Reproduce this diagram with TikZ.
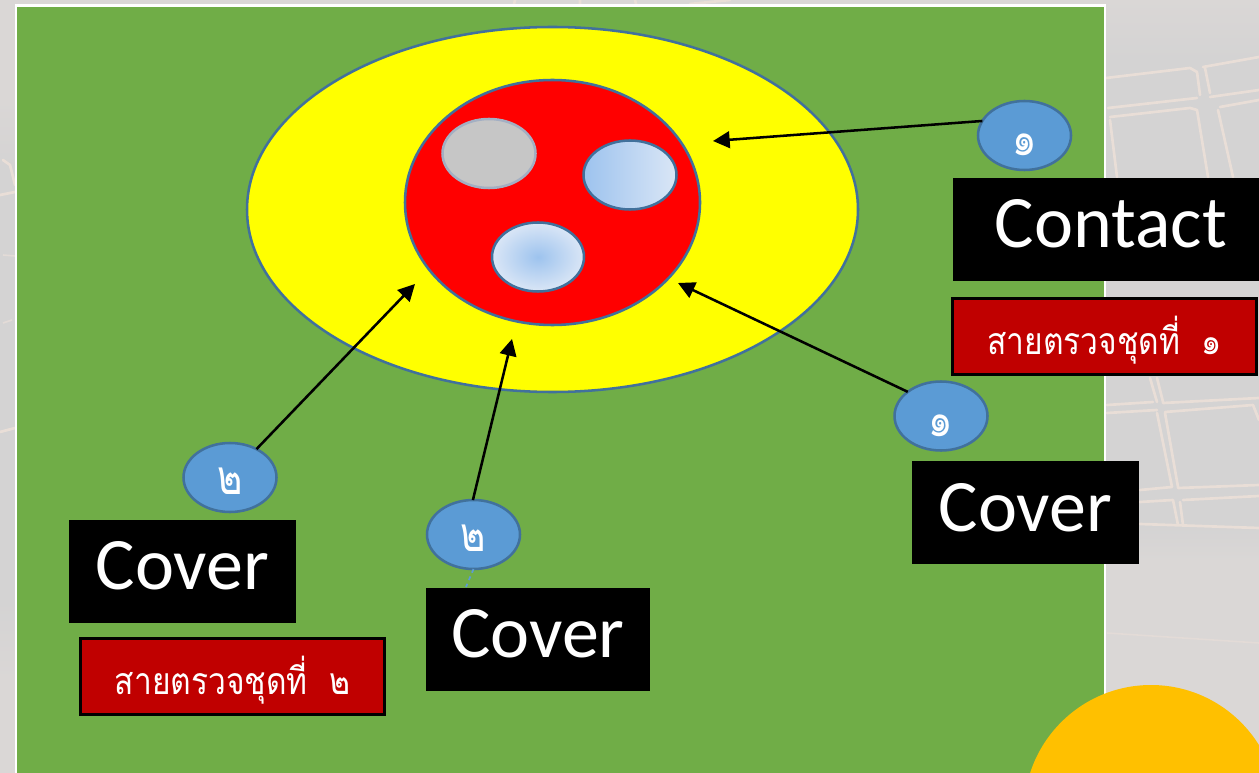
\documentclass[tikz,border=0pt]{standalone}
\usepackage{fontspec}
\setmainfont{Carlito}
\newfontfamily\thaifont[Script=Thai,FakeStretch=0.85]{Loma}
\newfontfamily\thaidigit[Script=Thai,FakeStretch=0.8]{Loma}
\usetikzlibrary{shapes.geometric,arrows.meta}
\definecolor{bgpale}{HTML}{DAD7D6}
\definecolor{bgmid}{HTML}{D4D3D3}
\definecolor{road}{HTML}{E9DED7}
\definecolor{grass}{HTML}{70AD47}
\definecolor{rim}{HTML}{41719C}
\definecolor{badge}{HTML}{5B9BD5}
\definecolor{darkred}{HTML}{C00000}
\definecolor{amber}{HTML}{FFC000}
\definecolor{softblue}{HTML}{9DC3EE}
\definecolor{paleblue}{HTML}{DAE6F6}
\definecolor{pureyellow}{RGB}{255,255,0}
\definecolor{purered}{RGB}{255,0,0}
\definecolor{greyfill}{HTML}{C6C6C6}
\definecolor{greyrim}{HTML}{A3AFC3}
\tikzset{
  ell/.style 2 args={ellipse,minimum width=#1*0.75pt,minimum height=#2*0.75pt,inner sep=0pt,outer sep=0pt},
  rimmed/.style={draw=rim,line width=1.9pt},
  badgeell/.style={ell={93}{69},rimmed,fill=badge,text=white,font=\thaidigit\fontsize{36pt}{36pt}\selectfont,text height=0pt,text depth=0pt},
  blackbox/.style={rectangle,fill=black,text=white,inner sep=0pt,outer sep=0pt,font=\fontsize{55.5pt}{55.5pt}\selectfont,text height=70*0.75pt,text depth=33*0.75pt},
  redbox/.style={rectangle,fill=darkred,draw=black,line width=2.2pt,text=white,inner sep=0pt,outer sep=0pt,minimum width=304*0.75pt,text height=56*0.75pt,text depth=20*0.75pt,font=\thaifont\fontsize{28pt}{28pt}\selectfont},
  pointer/.style={draw=black,line width=1.9pt,-{Triangle[length=12.5pt,width=12.5pt]}},
  roadline/.style={draw=road,line width=2pt,line cap=round,line join=round}
}
\begin{document}
\begin{tikzpicture}[x=0.75pt,y=-0.75pt]
\useasboundingbox (0,0) rectangle (1259,773);
\clip (0,0) rectangle (1259,773);
% background
\fill[bgpale] (0,0) rectangle (1259,773);
\shade[top color=bgpale,bottom color=bgmid] (1105,0) rectangle (1259,60);
\fill[bgmid] (1105,60) rectangle (1259,525);
\shade[top color=bgmid,bottom color=bgpale] (1105,525) rectangle (1259,560);
\shade[top color=bgpale,bottom color=bgmid] (0,100) rectangle (15,170);
\fill[bgmid] (0,170) rectangle (15,600);
\shade[top color=bgmid,bottom color=bgpale] (0,600) rectangle (15,680);
\path[roadline]
  (1106,78)--(1190,68)--(1197,72)--(1200,95)
  (1108,108)--(1197,98)
  (1110,117)--(1190,108)--(1197,110)--(1208,177)
  (1110,120)--(1117,177)
  (1203,67)--(1259,57)
  (1205,68)--(1210,93)
  (1210,97)--(1259,90)
  (1220,107)--(1259,100)
  (1218,110)--(1233,177)
  (1107,405)--(1153,402)
  (1107,413)--(1157,410)
  (1150,378)--(1157,402)
  (1157,378)--(1163,402)
  (1163,403)--(1259,398)
  (1165,412)--(1253,405)--(1259,420)
  (1157,413)--(1172,487)
  (1165,413)--(1178,487)
  (1140,490)--(1172,487)
  (1178,488)--(1259,485)
  (1140,502)--(1173,500)--(1178,525)
  (1180,502)--(1183,525)
  (1183,500)--(1259,496)
  (1140,524)--(1259,528)
  (0,432)--(15,428)
  (0,195)--(15,192)
  (3,160)--(10,165)--(15,185)
  (515,0)--(514,4)
  (580,0)--(580,4)
  (635,0)--(636,4)
  (690,4)--(730,0);
\draw[road!60!bgpale,line width=1.2pt] (1107,633)--(1259,643) (3,323)--(12,320) (3,255)--(15,256);
% field
\fill[white] (15,4) rectangle (1106,773);
\fill[grass] (17,7) rectangle (1104,773);
% target rings
\node[ell={611}{365},fill=pureyellow,rimmed] (ringY) at (552.5,209.5) {};
\node[ell={295}{245},fill=purered,rimmed] (ringR) at (552.5,202.5) {};
\node[ell={93}{69},fill=greyfill,draw=greyrim,line width=1.9pt] (hole1) at (489,153.5) {};
\node[ell={93}{69},left color=softblue,right color=paleblue,rimmed] (hole2) at (630,175) {};
\node[ell={92}{69},inner color=softblue,outer color=paleblue,rimmed] (hole3) at (538,257) {};
% badges
\node[badgeell] (b1) at (1024.5,135.5) {\raisebox{-15pt}{๑}};
\node[badgeell] (b2) at (941,416) {\raisebox{-15pt}{๑}};
\node[badgeell] (b3) at (230,477.5) {\raisebox{-13pt}{๒}};
\node[badgeell] (b4) at (473.5,534.5) {\raisebox{-13pt}{๒}};
% boxes
\node[blackbox,minimum width=306*0.75pt] (contact) at (1106,229.5) {\hspace*{7.5pt}Contact};
\node[blackbox,minimum width=227*0.75pt] (coverR) at (1025.5,512.5) {Cover};
\node[blackbox,minimum width=227*0.75pt] (coverL) at (182.5,571) {Cover};
\node[blackbox,minimum width=224*0.75pt] (coverM) at (538,639) {Cover};
\node[redbox] (team1) at (1104.5,336.5) {สายตรวจชุดที่\hspace{16pt}๑};
\node[redbox] (team2) at (232.5,676.5) {สายตรวจชุดที่\hspace{16pt}๒};
% corner disc
\fill[amber] (1151,812) circle[radius=127];
% arrow targets
\coordinate (t1) at (713,141);
\coordinate (t2) at (678,283);
\coordinate (t3) at (415,284);
\coordinate (t4) at (512,339);
\coordinate (stub) at (466,587);
\draw[pointer] (b1.161) -- (t1);
\draw[pointer] (b2.144) -- (t2);
\draw[pointer] (b3.47) -- (t3);
\draw[pointer] (b4.91) -- (t4);
\draw[badge,line width=1.3pt,dashed] (b4.south) -- (stub);
\end{tikzpicture}
\end{document}
